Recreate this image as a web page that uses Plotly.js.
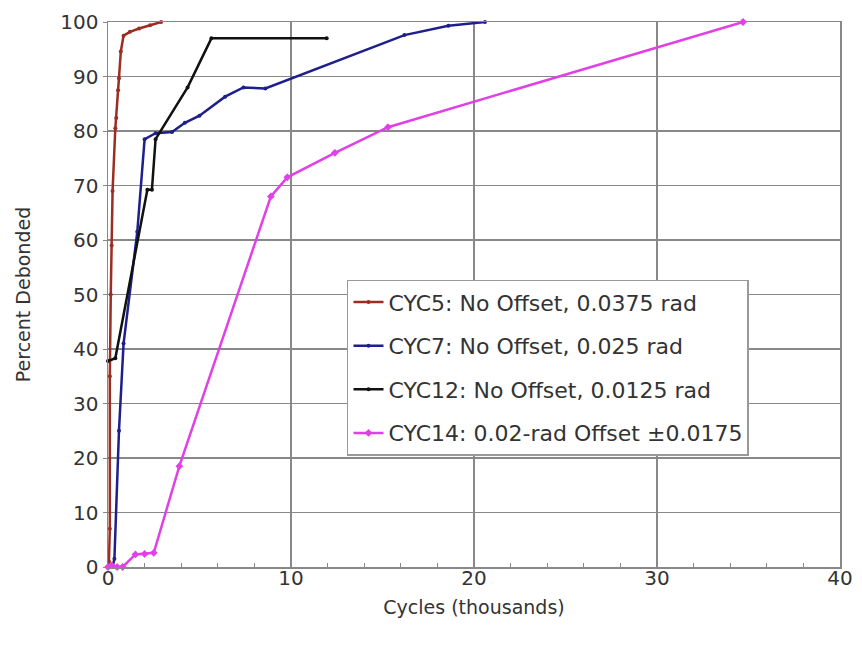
<!DOCTYPE html>
<html>
<head>
<meta charset="utf-8">
<script src="https://cdn.plot.ly/plotly-3.0.1.min.js"></script>
<style>html,body{margin:0;padding:0;background:#fff;}#chart{width:862px;height:656px;}</style>
</head>
<body>
<div id="chart"></div>
<script>
// Cycles (thousands) and Percent Debonded for each specimen
const cyc5X = [0.0, 0.05, 0.1, 0.1, 0.15, 0.2, 0.25, 0.4, 0.45, 0.55, 0.6, 0.7, 0.85, 1.2, 1.7, 2.3, 2.9];
const cyc5Y = [0, 1, 7, 35, 50, 59, 69, 80.5, 82.4, 87.5, 89.7, 94.6, 97.5, 98.2, 98.8, 99.4, 100];

const cyc7X = [0.25, 0.35, 0.6, 0.85, 1.6, 2.0, 2.6, 3.5, 4.2, 5.0, 6.4, 7.4, 8.6, 16.2, 18.6, 20.6];
const cyc7Y = [0, 1.5, 25, 41, 61.5, 78.5, 79.6, 79.8, 81.5, 82.8, 86.3, 88, 87.8, 97.6, 99.3, 100];

const cyc12X = [0.0, 0.4, 2.15, 2.4, 2.6, 4.35, 5.65, 11.95];
const cyc12Y = [37.8, 38.3, 69.2, 69.2, 78.5, 88, 97, 97];

const cyc14X = [0.0, 0.2, 0.5, 0.8, 1.5, 2.0, 2.5, 3.9, 8.9, 9.8, 12.4, 15.3, 34.7];
const cyc14Y = [0, 0.3, 0, 0, 2.3, 2.4, 2.6, 18.5, 68, 71.5, 76, 80.7, 100];

const seriesNames = [
  "CYC5: No Offset, 0.0375 rad",
  "CYC7: No Offset, 0.025 rad",
  "CYC12: No Offset, 0.0125 rad",
  "CYC14: 0.02-rad Offset \u00b10.0175"
];
const seriesColors = ["#9B2D22", "#1E1E8C", "#111111", "#E040E6"];

const xs = [cyc5X, cyc7X, cyc12X, cyc14X];
const ys = [cyc5Y, cyc7Y, cyc12Y, cyc14Y];
const mSizes = [4, 4, 4, 6];

const traces = xs.map((x, i) => ({
  x: x, y: ys[i], name: seriesNames[i], type: 'scatter', mode: 'lines+markers',
  legendgroup: 'g' + i,
  line: {color: seriesColors[i], width: 2.5},
  marker: {color: seriesColors[i], size: mSizes[i], symbol: i === 3 ? 'diamond' : 'circle'},
  cliponaxis: false
}));

const fam = '"DejaVu Sans", "Liberation Sans", Arial, sans-serif';
const txt = '#333';

const layout = {
  width: 862, height: 656,
  margin: {l: 108, r: 22, t: 22, b: 89},
  paper_bgcolor: '#fff', plot_bgcolor: '#fff',
  font: {family: fam, color: txt, size: 19},
  showlegend: true,
  legend: {
    x: 0.3265, y: 0.527, xanchor: 'left', yanchor: 'top',
    bgcolor: '#fff', bordercolor: '#999', borderwidth: 1.5,
    font: {family: fam, size: 22, color: txt},
    itemwidth: 30, traceorder: 'grouped', tracegroupgap: 12
  },
  xaxis: {
    range: [0, 40], dtick: 10, tick0: 0,
    showgrid: true, gridcolor: '#888', gridwidth: 1.5,
    showline: true, linecolor: '#888', linewidth: 1.5, mirror: true,
    zeroline: false, ticks: '', ticklabelstandoff: -8,
    minor: {dtick: 2, ticks: 'inside', ticklen: 4, tickcolor: '#888', showgrid: false},
    tickfont: {size: 20, color: txt},
    title: {text: 'Cycles (thousands)', font: {size: 19, color: txt}, standoff: 12}
  },
  yaxis: {
    range: [0, 100], dtick: 10, tick0: 0,
    showgrid: true, gridcolor: '#888', gridwidth: 1.5,
    showline: true, linecolor: '#888', linewidth: 1.5, mirror: true,
    zeroline: false, ticks: 'outside', ticklen: 4, tickcolor: '#888',
    tickfont: {size: 20, color: txt},
    title: {text: 'Percent Debonded', font: {size: 19, color: txt}, standoff: 24}
  }
};

Plotly.newPlot('chart', traces, layout, {displayModeBar: false, staticPlot: true});
</script>
</body>
</html>
